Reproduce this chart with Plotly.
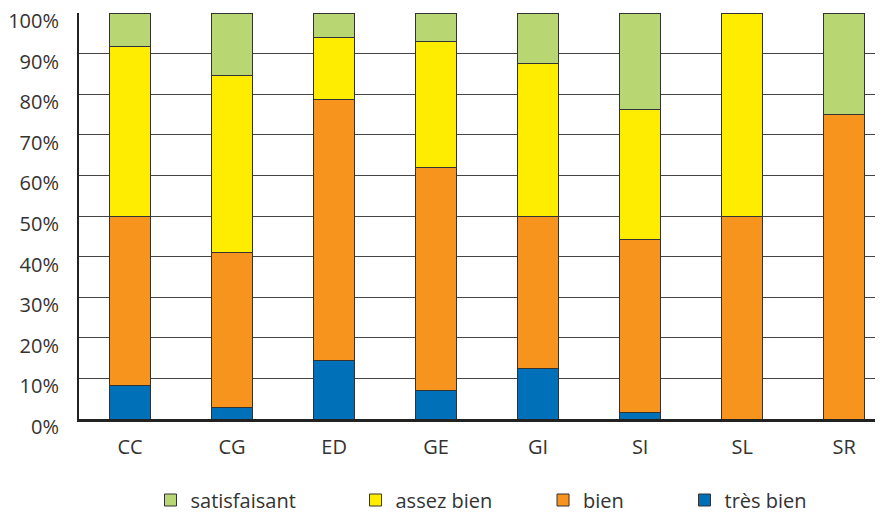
import plotly.graph_objects as go

categories = ["CC", "CG", "ED", "GE", "GI", "SI", "SL", "SR"]
tres_bien = [8.3, 2.9, 14.5, 7.1, 12.5, 1.6, 0, 0]
bien = [41.7, 38.0, 64.3, 54.9, 37.5, 42.5, 50.0, 75.0]
assez_bien = [41.7, 43.7, 15.2, 31.0, 37.5, 32.2, 50.0, 0]
satisfaisant = [8.3, 15.4, 6.0, 7.0, 12.5, 23.7, 0, 25.0]
y_ticks = [0, 10, 20, 30, 40, 50, 60, 70, 80, 90, 100]

series = [
    ("très bien", tres_bien, "#0071b9", "legend4"),
    ("bien", bien, "#f7941d", "legend3"),
    ("assez bien", assez_bien, "#ffed00", "legend2"),
    ("satisfaisant", satisfaisant, "#b8d672", "legend"),
]

W, H = 875, 507  # page body adds an 8px offset

fig = go.Figure()
for name, vals, color, leg in series:
    fig.add_trace(go.Bar(
        x=categories, y=vals, name=name, legend=leg, showlegend=True,
        marker=dict(color=color, line=dict(color="#333333", width=1)),
        width=0.4,
    ))

txt = dict(family="Open Sans, sans-serif", size=20, color="#333333")
leg_common = dict(orientation="h", yref="container", xref="container",
                  yanchor="middle", y=1 - 492 / H, xanchor="left",
                  font=txt, bgcolor="rgba(0,0,0,0)", borderwidth=0)

fig.update_layout(
    width=W, height=H,
    margin=dict(l=71, r=0, t=5, b=96, autoexpand=False),
    barmode="stack",
    showlegend=True,
    plot_bgcolor="white", paper_bgcolor="white",
    font=txt,
    legend=dict(x=142.5 / W, **leg_common),
    legend2=dict(x=347.5 / W, **leg_common),
    legend3=dict(x=535 / W, **leg_common),
    legend4=dict(x=676.5 / W, **leg_common),
)
fig.update_xaxes(
    range=[-0.5, 7.38], showline=True, linecolor="#222222", linewidth=2.5,
    showgrid=False, ticks="", ticklabelstandoff=8, tickfont=txt, automargin=False,
)
fig.update_yaxes(
    range=[0, 100], tickvals=y_ticks, ticktext=[f"{v}%" for v in y_ticks],
    showline=True, linecolor="#222222", linewidth=2,
    showgrid=True, gridcolor="#444444", gridwidth=1, zeroline=False,
    ticks="", ticklabelstandoff=14, ticklabelshift=8, ticklabeloverflow="allow",
    tickfont=txt, automargin=False,
)

fig.write_html("out.html")
